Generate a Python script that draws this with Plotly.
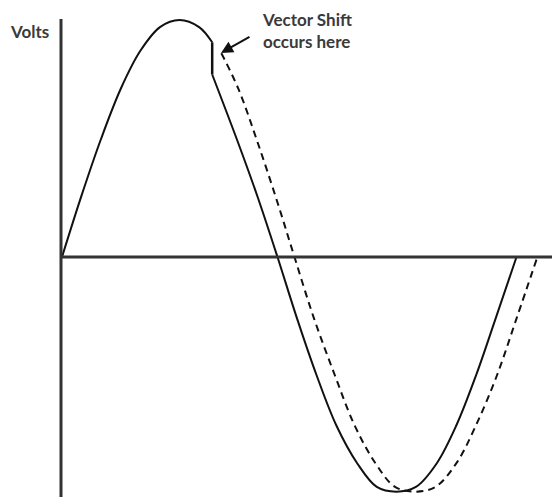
import plotly.graph_objects as go

# Phase angle (degrees) and normalised voltage.
pre_deg = [0, 15, 30, 45, 60, 75, 90, 105, 115]
pre_volts = [0.0, 0.26, 0.50, 0.71, 0.87, 0.97, 1.0, 0.97, 0.906]

# Vertical step at the moment of the vector shift.
step_deg = [115, 115]
step_volts = [0.906, 0.77]

# Waveform after the shift (leads the original waveform).
post_deg = [115, 135, 150, 165, 180, 195, 210, 226, 241, 256, 271, 287, 302, 317, 332, 348]
post_volts = [0.77, 0.48, 0.25, 0.0, -0.26, -0.50, -0.71, -0.87, -0.97, -0.99, -0.97, -0.87, -0.71, -0.50, -0.26, 0.0]

# Original waveform had no shift occurred (dashed).
orig_deg = [122, 135, 150, 165, 178, 193, 209, 224, 240, 255, 271, 286, 302, 317, 333, 348, 364]
orig_volts = [0.86, 0.71, 0.48, 0.23, 0.0, -0.26, -0.50, -0.71, -0.87, -0.97, -0.99, -0.97, -0.87, -0.71, -0.50, -0.26, 0.0]

W, H = 552, 497
X0_PX, Y0_PX = 62, 257          # origin position
PX_PER_DEG = 1.306
PX_PER_VOLT = 237

x_range = [-X0_PX / PX_PER_DEG, (W - X0_PX) / PX_PER_DEG]
y_range = [-(H - Y0_PX) / PX_PER_VOLT, Y0_PX / PX_PER_VOLT]

ink = "#111111"
fig = go.Figure()
fig.add_trace(go.Scatter(x=pre_deg, y=pre_volts, mode="lines",
                         line=dict(color=ink, width=2, shape="spline")))
fig.add_trace(go.Scatter(x=step_deg, y=step_volts, mode="lines",
                         line=dict(color=ink, width=2.5)))
fig.add_trace(go.Scatter(x=post_deg, y=post_volts, mode="lines",
                         line=dict(color=ink, width=2, shape="spline")))
fig.add_trace(go.Scatter(x=orig_deg, y=orig_volts, mode="lines",
                         line=dict(color=ink, width=2, shape="spline", dash="7px,5px")))

# Axes drawn as plain lines
axis_col = "#333333"
fig.add_shape(type="line", xref="x", yref="y", x0=0, x1=x_range[1],
              y0=0, y1=0, line=dict(color=axis_col, width=3))
fig.add_shape(type="line", xref="x", yref="paper", x0=-1 / PX_PER_DEG, x1=-1 / PX_PER_DEG,
              y0=0, y1=1 - 19 / H, line=dict(color=axis_col, width=3))

label_font = dict(family="Lato", size=17, color="#3a3a3a", weight="bold")
fig.add_annotation(x=-33 / PX_PER_DEG, y=(Y0_PX - 31) / PX_PER_VOLT, xref="x", yref="y",
                   text="Volts", showarrow=False, font=label_font)
fig.add_annotation(x=(260 - X0_PX) / PX_PER_DEG, y=(Y0_PX - 30) / PX_PER_VOLT,
                   xref="x", yref="y", xanchor="left",
                   text="Vector Shift<br>occurs here", showarrow=False, align="left",
                   font=label_font)
fig.add_annotation(x=(221 - X0_PX) / PX_PER_DEG, y=(Y0_PX - 53) / PX_PER_VOLT,
                   ax=(251 - X0_PX) / PX_PER_DEG, ay=(Y0_PX - 36) / PX_PER_VOLT,
                   xref="x", yref="y", axref="x", ayref="y", text="",
                   showarrow=True, arrowhead=2, arrowsize=1.2, arrowwidth=2,
                   arrowcolor=ink)

fig.update_layout(width=W, height=H, margin=dict(l=0, r=0, t=0, b=0),
                  paper_bgcolor="white", plot_bgcolor="white", showlegend=False,
                  xaxis=dict(range=x_range, visible=False, fixedrange=True),
                  yaxis=dict(range=y_range, visible=False, fixedrange=True))

fig.write_html("out.html")
